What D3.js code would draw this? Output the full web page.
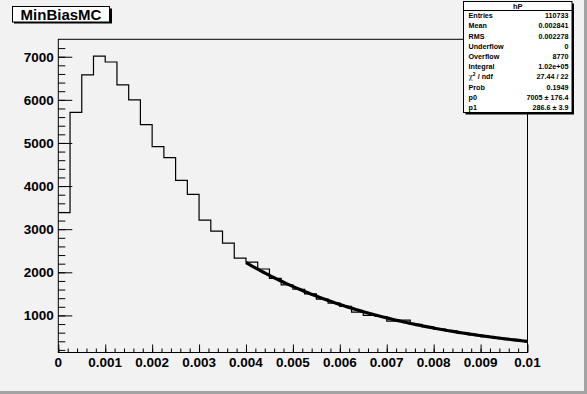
<!DOCTYPE html>
<html>
<head>
<meta charset="utf-8">
<script src="https://cdn.jsdelivr.net/npm/d3@7"></script>
<style>
    body { margin:0; background:#f2f2f2; }
    svg { display:block; font-family:"Liberation Sans", Arial, sans-serif; }
</style>
</head>
<body>
<div id="chart"></div>
<script>
// bin contents of hP, 40 bins from 0 to 0.01
var binEdges = [0, 0.01]
var counts = [3383, 5707, 6577, 7015, 6877, 6346, 6000, 5423, 4915, 4662,
              4131, 3808, 3208, 2954, 2677, 2331, 2238, 2077, 1860, 1708,
              1607, 1500, 1380, 1283, 1210, 1075, 1000, 975, 868, 890,
              790, 735, 680, 640, 590, 550, 510, 478, 445, 412]
var xTicks = [0, 0.001, 0.002, 0.003, 0.004, 0.005, 0.006, 0.007, 0.008, 0.009, 0.01]
var xTickLabels = ["0", "0.001", "0.002", "0.003", "0.004", "0.005", "0.006", "0.007", "0.008", "0.009", "0.01"]
var yTicks = [1000, 2000, 3000, 4000, 5000, 6000, 7000]
var yRange = [140, 7404]
var fitRange = [0.004, 0.01]
var fitPars = [7005, 286.6]
var statNames = ["Entries", "Mean", "RMS", "Underflow", "Overflow", "Integral", "chi2", "Prob", "p0", "p1"]
var statValues = ["110733", "0.002841", "0.002278", "0", "8770", "1.02e+05", "27.44 / 22", "0.1949", "7005 \u00b1 176.4", "286.6 \u00b1 3.9"]
var title = "MinBiasMC"
var histName = "hP"

var width = 587, height = 394
var fLeft = 58.3, fRight = 527.5, fTop = 39.3, fBottom = 352.5

var svg = d3.select('#chart').append('svg')
    .attr('width', width)
    .attr('height', height)

// canvas + bevel
svg.append('rect').attr('width', width).attr('height', height).attr('fill', '#f2f2f2')
svg.append('rect').attr('x', width - 3).attr('y', 0).attr('width', 3).attr('height', height).attr('fill', '#a3a3a3')
svg.append('rect').attr('x', 0).attr('y', height - 3).attr('width', width).attr('height', 3).attr('fill', '#a3a3a3')

var x = d3.scaleLinear().domain(binEdges).range([fLeft, fRight])
var y = d3.scaleLinear().domain(yRange).range([fBottom, fTop])

var bw = (binEdges[1] - binEdges[0]) / counts.length
var pts = counts.map(function (c, i) { return [binEdges[0] + i * bw, c] })
pts.push([binEdges[1], counts[counts.length - 1]])

var histLine = d3.line()
    .x(function (d) { return x(d[0]) })
    .y(function (d) { return y(d[1]) })
    .curve(d3.curveStepAfter)

svg.append('path')
    .attr('d', histLine(pts))
    .attr('fill', 'none')
    .attr('stroke', '#000')
    .attr('stroke-width', 1.2)

// fit curve p0*exp(-p1*x)
var fitPts = d3.range(0, 101).map(function (k) {
    var xv = fitRange[0] + (fitRange[1] - fitRange[0]) * k / 100
    return [xv, fitPars[0] * Math.exp(-fitPars[1] * xv)]
})
svg.append('path')
    .attr('d', d3.line().x(function (d) { return x(d[0]) }).y(function (d) { return y(d[1]) })(fitPts))
    .attr('fill', 'none')
    .attr('stroke', '#000')
    .attr('stroke-width', 3.2)

// frame
svg.append('rect')
    .attr('x', fLeft).attr('y', fTop)
    .attr('width', fRight - fLeft).attr('height', fBottom - fTop)
    .attr('fill', 'none').attr('stroke', '#000').attr('stroke-width', 1)

// y axis (ticks point into the frame)
var yAxis = d3.axisRight(y).tickValues(yTicks).tickSize(14).tickFormat('')
svg.append('g').attr('transform', 'translate(' + fLeft + ',0)').call(yAxis)
var yMinor = d3.axisRight(y).tickValues(d3.range(200, 7400, 200)).tickSize(7).tickFormat('')
svg.append('g').attr('transform', 'translate(' + fLeft + ',0)').call(yMinor)

var xAxis = d3.axisTop(x).tickValues(xTicks).tickSize(8).tickFormat('')
svg.append('g').attr('transform', 'translate(0,' + fBottom + ')').call(xAxis)
var xMinor = d3.axisTop(x).tickValues(d3.range(0, 50).map(function (k) { return k * 0.0002 })).tickSize(4).tickFormat('')
svg.append('g').attr('transform', 'translate(0,' + fBottom + ')').call(xMinor)

svg.selectAll('.domain').remove()
svg.selectAll('.tick line').attr('stroke', '#000').attr('stroke-width', 1)

svg.selectAll('.ylab').data(yTicks).enter().append('text')
    .attr('x', fLeft - 4.5)
    .attr('y', function (d) { return y(d) + 4.8 })
    .attr('text-anchor', 'end')
    .attr('font-size', '13.5px').attr('font-weight', 'bold')
    .text(function (d) { return d })

svg.selectAll('.xlab').data(xTicks).enter().append('text')
    .attr('x', function (d) { return x(d) })
    .attr('y', 367)
    .attr('text-anchor', 'middle')
    .attr('font-size', '13.5px').attr('font-weight', 'bold')
    .text(function (d, i) { return xTickLabels[i] })

// title box
svg.append('rect').attr('x', 14).attr('y', 8.5).attr('width', 98).attr('height', 15).attr('fill', '#000')
svg.append('rect').attr('x', 12.5).attr('y', 6.5).attr('width', 97).attr('height', 15.5)
    .attr('fill', '#fff').attr('stroke', '#000').attr('stroke-width', 1)
svg.append('text').attr('x', 61).attr('y', 19.5).attr('text-anchor', 'middle')
    .attr('font-size', '15px').attr('font-weight', 'bold').text(title)

// stats box
var sx = 463.5, sy = 1.5, sw = 108.5, sh = 111
svg.append('rect').attr('x', sx + 2).attr('y', sy + 2).attr('width', sw).attr('height', sh).attr('fill', '#000')
svg.append('rect').attr('x', sx).attr('y', sy).attr('width', sw).attr('height', sh)
    .attr('fill', '#fff').attr('stroke', '#000').attr('stroke-width', 1)
svg.append('line').attr('x1', sx).attr('x2', sx + sw).attr('y1', 10.5).attr('y2', 10.5).attr('stroke', '#000')
svg.append('text').attr('x', sx + sw / 2).attr('y', 8.5).attr('text-anchor', 'middle')
    .attr('font-size', '7.5px').attr('font-weight', 'bold').text(histName)

statNames.forEach(function (n, i) {
    var ty = 18.3 + i * 10.18
    var t = svg.append('text').attr('x', 468.5).attr('y', ty)
        .attr('font-size', '7.2px').attr('font-weight', 'bold')
    if (n == 'chi2') {
        t.append('tspan').attr('font-family', '"DejaVu Serif", serif').attr('font-weight', 'normal').text('\u03c7')
        t.append('tspan').attr('font-size', '5px').attr('dy', -3).text('2')
        t.append('tspan').attr('dy', 3).text(' / ndf')
    } else {
        t.text(n)
    }
    svg.append('text').attr('x', 568.5).attr('y', ty).attr('text-anchor', 'end')
        .attr('font-size', '7.2px').attr('font-weight', 'bold').text(statValues[i])
})
</script>
</body>
</html>
